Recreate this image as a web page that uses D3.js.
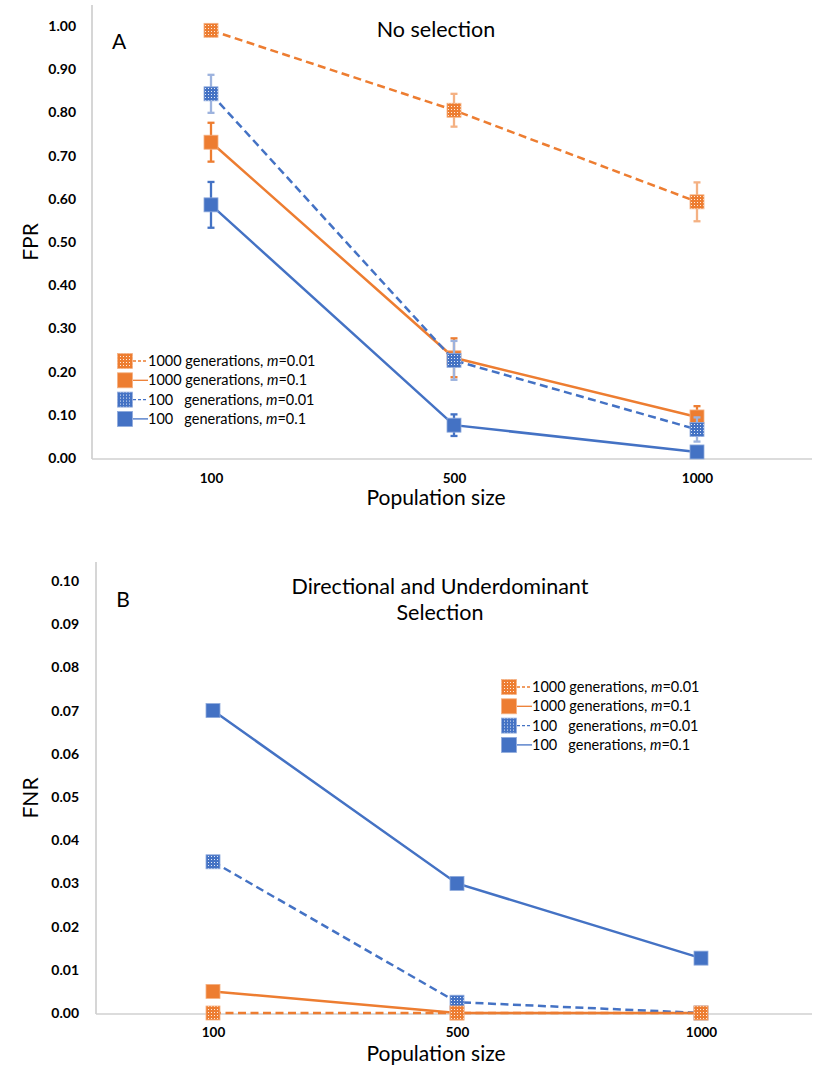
<!DOCTYPE html>
<html>
<head>
<meta charset="utf-8">
<script src="https://cdn.jsdelivr.net/npm/d3@7"></script>
<style>
  body { margin: 0; background: #fff; }
  svg { display: block; }
  text { font-family: Lato, "Open Sans", "Liberation Sans", sans-serif; fill: #000; }
</style>
</head>
<body>
<svg id="chart" width="814" height="1067"></svg>
<script>
// ---- data ----
const populationSizes = ["100", "500", "1000"];

const legendGenerations = ["1000", "1000", "100", "100"];
const legendMigration = ["0.01", "0.1", "0.01", "0.1"];

// Panel A: false positive rate (mean, error)
const fprGen1000M001 = [0.99, 0.805, 0.593];
const fprGen1000M01  = [0.731, 0.232, 0.095];
const fprGen100M001  = [0.843, 0.226, 0.066];
const fprGen100M01   = [0.586, 0.076, 0.014];
const fprErrGen1000M001 = [0.008, 0.038, 0.045];
const fprErrGen1000M01  = [0.045, 0.045, 0.025];
const fprErrGen100M001  = [0.044, 0.045, 0.028];
const fprErrGen100M01   = [0.053, 0.025, 0.006];

// Panel B: false negative rate
const fnrGen1000M001 = [0, 0, 0];
const fnrGen1000M01  = [0.005, 0, 0];
const fnrGen100M001  = [0.035, 0.0025, 0];
const fnrGen100M01   = [0.07, 0.03, 0.0127];

const fprTicks = [0, 0.1, 0.2, 0.3, 0.4, 0.5, 0.6, 0.7, 0.8, 0.9, 1.0];
const fnrTicks = [0, 0.01, 0.02, 0.03, 0.04, 0.05, 0.06, 0.07, 0.08, 0.09, 0.10];

// ---- styling ----
const ORANGE = "#ED7D31", BLUE = "#4472C4";
const seriesStyle = [
  { color: ORANGE, dashed: true,  fill: "url(#dotsOrange)", err: "#F4B183", edge: "#F4B183" },
  { color: ORANGE, dashed: false, fill: ORANGE,             err: ORANGE,    edge: "#F4B183" },
  { color: BLUE,   dashed: true,  fill: "url(#dotsBlue)",   err: "#9DB3DE", edge: "#8FAADC" },
  { color: BLUE,   dashed: false, fill: BLUE,               err: BLUE,      edge: "#8FAADC" }
];
// painting order of the series (later ones sit on top)
const drawOrder = [1, 2, 3, 0];

const svg = d3.select("#chart");
const defs = svg.append("defs");
[["dotsOrange", ORANGE], ["dotsBlue", BLUE]].forEach(([id, c]) => {
  const p = defs.append("pattern").attr("id", id)
    .attr("width", 3).attr("height", 3).attr("patternUnits", "userSpaceOnUse");
  p.append("rect").attr("width", 3).attr("height", 3).attr("fill", c);
  p.append("rect").attr("x", 1).attr("y", 1).attr("width", 1).attr("height", 1)
    .attr("fill", "#fff").attr("fill-opacity", 0.85);
});

function drawPanel(cfg) {
  const g = svg.append("g");
  const x = d3.scalePoint().domain(populationSizes).range(cfg.xRange).padding(0.5);
  const y = d3.scaleLinear().domain([0, cfg.yMax]).range(cfg.yRange);

  // axis lines
  g.append("line").attr("x1", cfg.axisX).attr("x2", cfg.axisX)
    .attr("y1", cfg.axisTop).attr("y2", y(0) + 1)
    .attr("stroke", "#c8c8c8").attr("stroke-width", 1.5);
  g.append("line").attr("x1", cfg.axisX).attr("x2", 812)
    .attr("y1", y(0) + 1).attr("y2", y(0) + 1)
    .attr("stroke", "#d0d0d0").attr("stroke-width", 1.5);

  // y axis ticks
  const ya = g.append("g").attr("transform", `translate(${cfg.axisX},0)`)
    .call(d3.axisLeft(y).tickValues(cfg.ticks).tickSize(0)
      .tickPadding(cfg.axisX - cfg.tickLabelEnd).tickFormat(d3.format(".2f")));
  ya.select(".domain").remove();
  ya.selectAll("text").style("font-family", "Lato, sans-serif")
    .style("font-size", "14px").style("font-weight", "bold").attr("fill", "#000");

  // x axis ticks
  const xa = g.append("g").attr("transform", `translate(0,${y(0) + 1})`)
    .call(d3.axisBottom(x).tickSize(0).tickPadding(cfg.xTickPad));
  xa.select(".domain").remove();
  xa.selectAll("text").style("font-family", "Lato, sans-serif")
    .style("font-size", "13.5px").style("font-weight", "bold").attr("fill", "#000");

  // axis titles
  g.append("text").attr("x", cfg.xTitle[0]).attr("y", cfg.xTitle[1])
    .attr("text-anchor", "middle").style("font-size", "21px").text("Population size");
  g.append("text").attr("transform", `translate(${cfg.yTitle[0]},${cfg.yTitle[1]}) rotate(-90)`)
    .attr("text-anchor", "middle").attr("dy", "0.35em").style("font-size", "21px").text(cfg.yLabel);

  // panel letter and title
  g.append("text").attr("x", cfg.letterPos[0]).attr("y", cfg.letterPos[1])
    .attr("text-anchor", "middle").style("font-size", "21px").text(cfg.letter);
  cfg.title.forEach((t, i) => {
    g.append("text").attr("x", cfg.titlePos[0]).attr("y", cfg.titlePos[1] + i * 26)
      .attr("text-anchor", "middle").style("font-size", "21.5px").text(t);
  });

  const line = d3.line().x((d, i) => x(populationSizes[i])).y(d => y(d));

  drawOrder.forEach(s => {
    const vals = cfg.series[s];
    const st = seriesStyle[s];
    // connecting line
    g.append("path").datum(vals).attr("d", line).attr("fill", "none")
      .attr("stroke", st.color).attr("stroke-width", 2.5)
      .attr("stroke-dasharray", st.dashed ? "8,4.5" : null);

    // error bars
    if (cfg.errors) {
      const errs = cfg.errors[s];
      vals.forEach((v, i) => {
        const cx = x(populationSizes[i]);
        const y1 = y(v + errs[i]), y2 = y(Math.max(0, v - errs[i]));
        const eg = g.append("g").attr("stroke", st.err).attr("stroke-width", 2.3);
        eg.append("line").attr("x1", cx).attr("x2", cx).attr("y1", y1).attr("y2", y2);
        eg.append("line").attr("x1", cx - 3.5).attr("x2", cx + 3.5).attr("y1", y1).attr("y2", y1);
        eg.append("line").attr("x1", cx - 3.5).attr("x2", cx + 3.5).attr("y1", y2).attr("y2", y2);
      });
    }

    // markers
    g.selectAll(null).data(vals).enter().append("rect")
      .attr("x", (d, i) => x(populationSizes[i]) - 7)
      .attr("y", d => y(d) - 7)
      .attr("width", 14).attr("height", 14)
      .attr("fill", st.fill).attr("stroke", st.edge).attr("stroke-width", 0.8);
  });

  // legend
  const lg = g.append("g").attr("transform", `translate(${cfg.legendPos[0]},${cfg.legendPos[1]})`);
  seriesStyle.forEach((st, s) => {
    const row = lg.append("g").attr("transform", `translate(0,${s * 19.3})`);
    row.append("line").attr("x1", 8).attr("x2", 23).attr("y1", 0).attr("y2", 0)
      .attr("stroke", st.color).attr("stroke-width", 1.3)
      .attr("stroke-dasharray", st.dashed ? "3,2" : null);
    row.append("rect").attr("x", -7.5).attr("y", -7.5).attr("width", 15).attr("height", 15)
      .attr("fill", st.fill).attr("stroke", st.edge).attr("stroke-width", 0.8);
    const txt = row.append("text").attr("x", 23).attr("dy", "0.35em")
      .style("font-size", "14.5px").attr("xml:space", "preserve");
    const gen = legendGenerations[s];
    txt.append("tspan").text(gen + (gen.length < 4 ? "   " : " ") + "generations, ");
    txt.append("tspan").style("font-style", "italic").text("m");
    txt.append("tspan").text("=" + legendMigration[s]);
  });
}

drawPanel({
  xRange: [89.5, 818.5], yMax: 1.0, yRange: [458, 26], axisX: 92, axisTop: 5,
  tickLabelEnd: 76, xTickPad: 14, ticks: fprTicks, yLabel: "FPR",
  xTitle: [436, 505], yTitle: [31, 242],
  letter: "A", letterPos: [119, 49], title: ["No selection"], titlePos: [436, 37],
  series: [fprGen1000M001, fprGen1000M01, fprGen100M001, fprGen100M01],
  errors: [fprErrGen1000M001, fprErrGen1000M01, fprErrGen100M001, fprErrGen100M01],
  legendPos: [125, 361]
});

drawPanel({
  xRange: [91, 823], yMax: 0.10, yRange: [1013, 581], axisX: 96, axisTop: 562,
  tickLabelEnd: 79, xTickPad: 13, ticks: fnrTicks, yLabel: "FNR",
  xTitle: [436, 1061], yTitle: [31, 798],
  letter: "B", letterPos: [123, 607], title: ["Directional and Underdominant", "Selection"], titlePos: [440, 594],
  series: [fnrGen1000M001, fnrGen1000M01, fnrGen100M001, fnrGen100M01],
  errors: null,
  legendPos: [509, 687]
});
</script>
</body>
</html>
